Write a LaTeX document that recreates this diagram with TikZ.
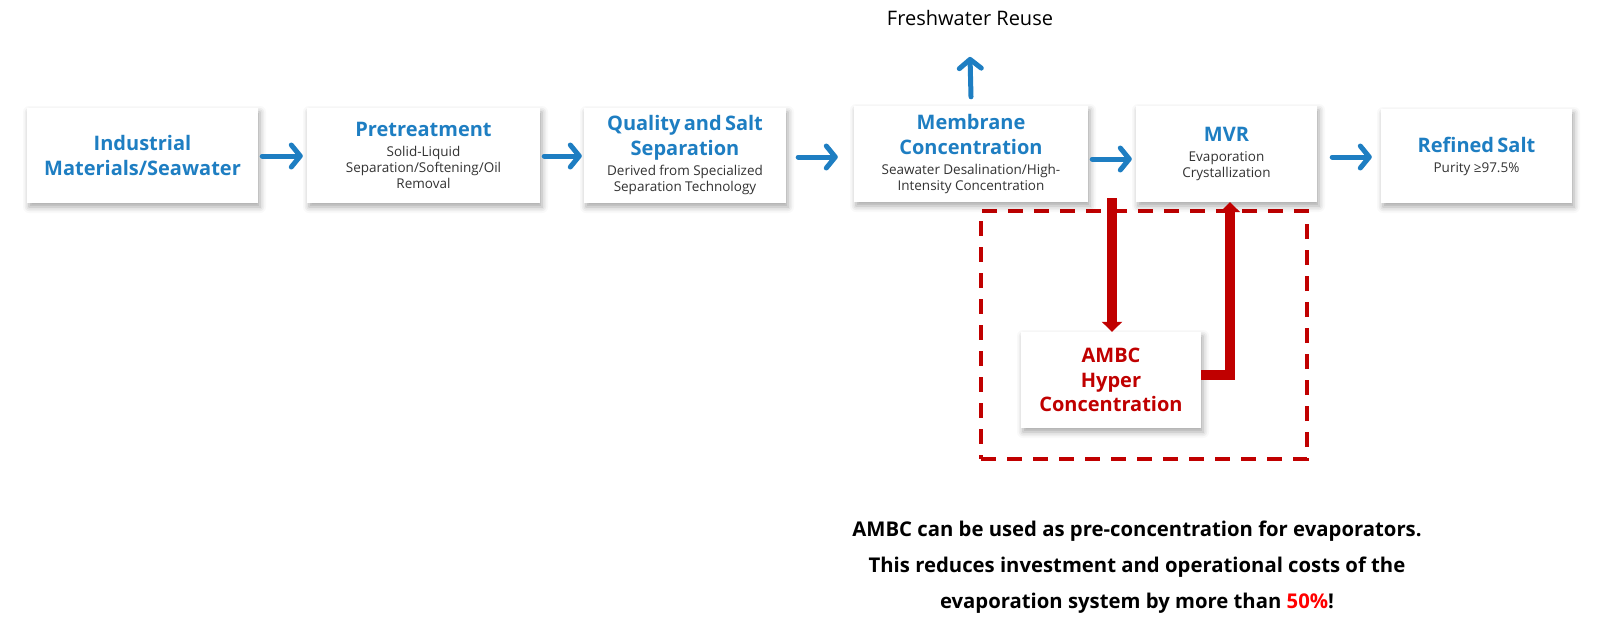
\documentclass[tikz,border=0pt]{standalone}
\usepackage{fontspec}
\setmainfont{Open Sans}
\usetikzlibrary{arrows.meta,shadows.blur}
\definecolor{cblue}{RGB}{30,126,194}
\definecolor{cred}{RGB}{192,0,0}
\definecolor{cbright}{RGB}{255,0,0}
\definecolor{ctext}{RGB}{51,51,51}
\newcommand{\ttl}{\fontsize{20}{25}\selectfont\bfseries\color{cblue}}
\newcommand{\sbt}{\fontsize{13.5}{16}\selectfont\color{ctext}}
\newcommand{\rtl}{\fontsize{20}{24.5}\selectfont\bfseries\color{cred}}
\newcommand{\boxtext}[2]{{\ttl #1\par}\vskip4pt{\sbt #2\par}}
\tikzset{
  box/.style={fill=white, draw=none, inner xsep=0pt, inner ysep=0pt, align=center,
    blur shadow={shadow xshift=2pt, shadow yshift=-4pt, shadow blur radius=6pt, shadow opacity=35}},
  barrow/.style={draw=cblue, line width=5pt, line cap=round,
    -{Straight Barb[length=9pt, width=22pt, line cap=round, line join=round]}},
  rarrow/.style={draw=cred, line width=10pt, -{Triangle[length=10pt, width=20pt]}},
  dashbox/.style={draw=cred, line width=3.5pt, dash pattern=on 15pt off 11pt}
}
\begin{document}
\begin{tikzpicture}[x=1pt, y=-1pt]
\useasboundingbox (0,0) rectangle (1599,622);
% dashed region
\node[dashbox, minimum width=326pt, minimum height=248pt, inner sep=0pt] (zone) at (1144,335) {};
% boxes
\node[box, text width=231pt, minimum height=95pt] (b1) at (142.5,155.5)
  {{\ttl Industrial\\Materials/Seawater\par}};
\node[box, text width=233pt, minimum height=95pt] (b2) at (423.5,155.5)
  {\boxtext{Pretreatment}{Solid-Liquid\\Separation/Softening/Oil\\Removal}};
\node[box, text width=202pt, minimum height=95pt] (b3) at (685,155.5)
  {\boxtext{Quality and Salt\\Separation}{Derived from Specialized\\Separation Technology}};
\node[box, text width=234pt, minimum height=96pt] (b4) at (971,154)
  {\boxtext{Membrane\\Concentration}{Seawater Desalination/High-\\Intensity Concentration}};
\node[box, text width=181pt, minimum height=96pt] (b5) at (1226.5,154)
  {\boxtext{MVR}{Evaporation\\Crystallization}};
\node[box, text width=191pt, minimum height=94pt] (b6) at (1476.5,156)
  {\boxtext{Refined Salt}{Purity ≥97.5\%}};
\node[box, text width=180pt, minimum height=96pt] (ambc) at (1111,380)
  {{\rtl AMBC\\Hyper\\Concentration\par}};
% labels
\node[font=\fontsize{20}{24}\selectfont, text=black, inner sep=0pt] (fresh) at (970,18) {Freshwater Reuse};
\node[font=\fontsize{20.3}{36}\selectfont\bfseries, text=black, align=center, inner sep=0pt, anchor=base] (note) at (1137,608)
  {AMBC can be used as pre-concentration for evaporators.\\
   This reduces investment and operational costs of the\\
   evaporation system by more than {\color{cbright}50\%}!};
% blue arrows
\draw[barrow] ([xshift=4pt,yshift=-0.5pt]b1.east) -- ([xshift=-4pt,yshift=-0.5pt]b2.west);
\draw[barrow] ([xshift=4pt,yshift=-0.5pt]b2.east) -- ([xshift=-2pt,yshift=-0.5pt]b3.west);
\draw[barrow] ([xshift=12pt,yshift=-1.5pt]b3.east) -- ([xshift=-16pt,yshift=-3pt]b4.west);
\draw[barrow] ([xshift=4pt,yshift=-5pt]b4.east) -- ([xshift=-4pt,yshift=-5pt]b5.west);
\draw[barrow] ([xshift=15pt,yshift=-3pt]b5.east) -- ([xshift=-9pt,yshift=-1pt]b6.west);
\draw[barrow] ([yshift=9pt]b4.north) -- ([yshift=-31pt]fresh.south);
% red arrows
\coordinate (dtop) at (1112,198);
\draw[rarrow] (dtop) -- (ambc.north -| dtop);
\coordinate (turn) at (1230,375);
\draw[rarrow, line join=miter] (ambc.east |- turn) -- (turn) -- (b5.south -| turn);
\end{tikzpicture}
\end{document}
